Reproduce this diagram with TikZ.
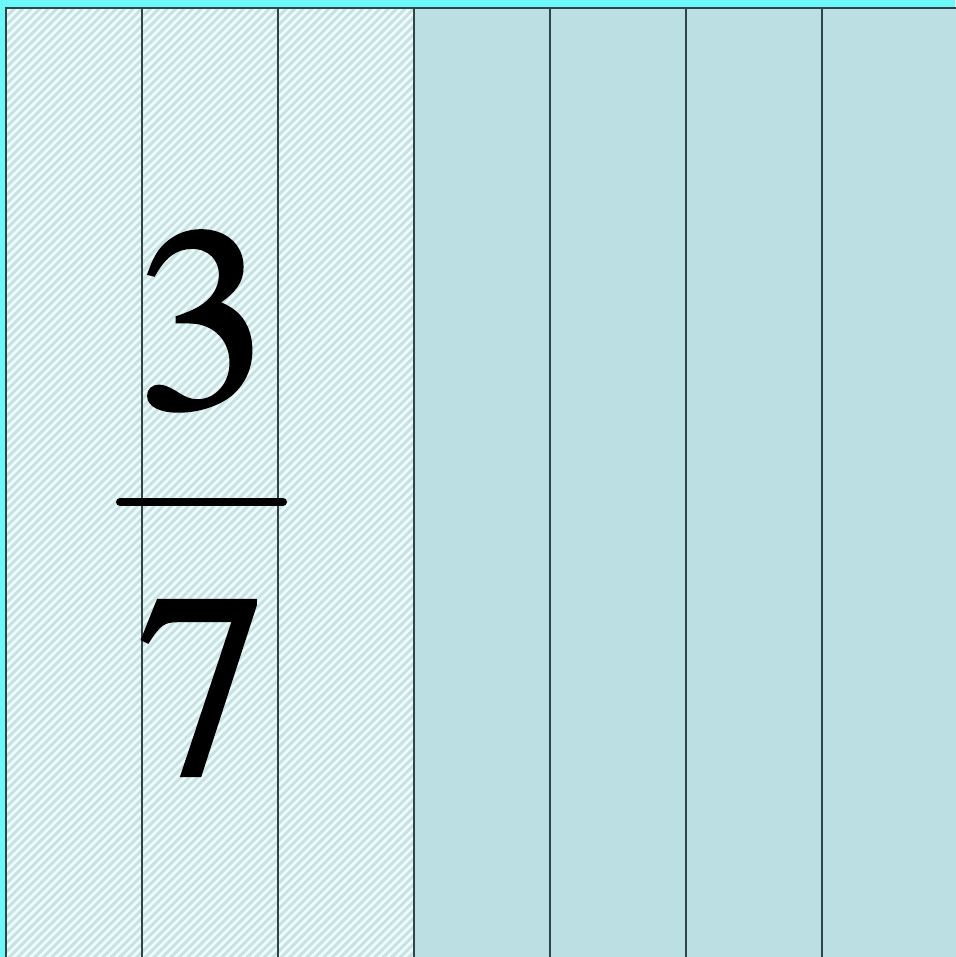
\documentclass[tikz,border=0pt]{standalone}
\usepackage{fontspec}
\newfontfamily\digitfont{texgyretermes-regular.otf}[FakeBold=1.6]
\definecolor{bgcyan}{HTML}{6CF8F8}
\definecolor{hatchbg}{HTML}{F2FBFB}
\definecolor{hatchln}{HTML}{C6E3E4}
\definecolor{fillcol}{HTML}{BBDFE2}
\definecolor{edgecol}{HTML}{2E4448}
\tikzset{
  divider/.style={draw=edgecol, line width=1.6pt},
  digit/.style={font=\digitfont\fontsize{260}{260}\selectfont, inner sep=0pt, anchor=base, text=black},
}
\begin{document}
\begin{tikzpicture}[x=1pt,y=-1pt]
\useasboundingbox (0,0) rectangle (955,957);
\fill[bgcyan] (0,0) rectangle (955,957);
% hatched part
\fill[hatchbg] (6,8) rectangle (414,960);
\begin{scope}
\clip (6,8) rectangle (414,960);
\foreach \i in {0,...,170}{
  \draw[hatchln, line width=3pt] (6-960+\i*8.5,960) -- (6+\i*8.5,0);
}
\end{scope}
% plain part
\fill[fillcol] (414,8) rectangle (960,960);
% outline and dividers
\draw[divider] (6,960) -- (6,8) -- (960,8);
\foreach \x in {142,278,414,550,686,822}{
  \draw[divider] (\x,8) -- (\x,960);
}
% fraction
\node[digit] (num) at (203,407) {3};
\node[digit] (den) at (203,773) {7};
\coordinate (barL) at (120,502);
\coordinate (barR) at (283,502);
\draw[line width=8pt, line cap=round] (barL) -- (barR);
\end{tikzpicture}
\end{document}
